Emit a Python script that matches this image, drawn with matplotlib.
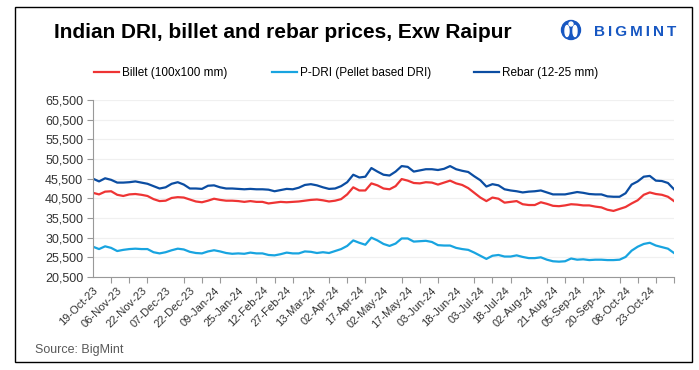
import numpy as np
import matplotlib.pyplot as plt
from matplotlib.patches import Rectangle, Ellipse

'''
Indian DRI, billet and rebar prices, Exw Raipur (INR/t)
values sampled every quarter of a label interval
'''

date_labels = ['19-Oct-23', '06-Nov-23', '22-Nov-23', '07-Dec-23', '22-Dec-23', '09-Jan-24',
               '25-Jan-24', '12-Feb-24', '27-Feb-24', '13-Mar-24', '02-Apr-24', '17-Apr-24',
               '02-May-24', '17-May-24', '03-Jun-24', '18-Jun-24', '03-Jul-24', '18-Jul-24',
               '02-Aug-24', '21-Aug-24', '05-Sep-24', '20-Sep-24', '08-Oct-24', '23-Oct-24']

billet = [41900, 41500, 42200, 42300, 41400, 41100, 41500, 41600, 41400, 41100, 40300, 39800,
          39900, 40600, 40800, 40700, 40200, 39700, 39500, 39900, 40400, 40100, 39900, 39900,
          39800, 39600, 39800, 39600, 39600, 39200, 39400, 39600, 39500, 39600, 39700, 39900,
          40100, 40200, 40000, 39700, 39900, 40300, 41500, 43300, 42500, 42500, 44300, 43800,
          43000, 42800, 43600, 45400, 45000, 44400, 44300, 44600, 44500, 44000, 44500, 45000,
          44300, 43900, 43100, 41900, 40700, 39800, 40700, 40400, 39400, 39600, 39800, 39000,
          38800, 38800, 39500, 39100, 38600, 38500, 38700, 39000, 38900, 38700, 38700, 38400,
          38200, 37600, 37300, 37800, 38300, 39200, 40000, 41400, 42000, 41600, 41400, 40900,
          39800]

pdri = [28200, 27600, 28300, 27900, 27100, 27400, 27600, 27700, 27600, 27600, 26800, 26500,
        26800, 27300, 27700, 27500, 26900, 26600, 26500, 27000, 27300, 27000, 26600, 26400,
        26500, 26400, 26700, 26500, 26500, 26100, 26000, 26300, 26700, 26500, 26500, 27000,
        26900, 26600, 26800, 26600, 27100, 27600, 28400, 29800, 29200, 28700, 30500, 29800,
        28900, 28400, 29000, 30300, 30300, 29500, 29600, 29700, 29400, 28600, 28500, 28500,
        27900, 27600, 27400, 26700, 25900, 25100, 25900, 26100, 25700, 25700, 26000, 25600,
        25300, 25300, 25500, 24900, 24500, 24400, 24500, 25200, 24900, 25000, 24800, 24900,
        24900, 24800, 24800, 24900, 25600, 27200, 28200, 28900, 29200, 28500, 28100, 27700,
        26600]

rebar = [45500, 44800, 45600, 45200, 44500, 44500, 44600, 44800, 44500, 44200, 43600, 43000,
         43300, 44200, 44600, 44000, 43000, 43000, 42900, 43700, 43800, 43300, 43000, 43000,
         42900, 42800, 42900, 42800, 42800, 42700, 42300, 42600, 42900, 42800, 43200, 43900,
         44100, 43800, 43300, 42900, 43000, 43600, 44600, 46500, 45800, 46000, 48200, 47300,
         46500, 46300, 47300, 48700, 48500, 47300, 47600, 47900, 47900, 47700, 48000, 48700,
         47900, 47500, 47200, 46100, 45100, 43500, 44100, 43800, 42800, 42500, 42300, 42000,
         42200, 42300, 42500, 42000, 41500, 41500, 41500, 41800, 42100, 41900, 41600, 41500,
         41500, 41000, 40900, 40900, 41800, 44000, 44800, 46000, 46200, 45000, 44900, 44400,
         42800]

x = np.arange(len(billet)) / 4.0

plt.rcParams['font.family'] = ['Liberation Sans', 'DejaVu Sans']
fig = plt.figure(figsize=(6.99, 3.70), dpi=100)
W, H = 699.0, 370.0

# outer frame
fig.patches.append(Rectangle((14.5 / W, 8 / H), 677.5 / W, 355 / H, transform=fig.transFigure,
                             fill=False, edgecolor='black', linewidth=1.0))

ax = fig.add_axes([93 / W, 1 - 277 / H, 581 / W, 177 / H])

l1, = ax.plot(x, billet, color='#EE3434', linewidth=1.6)
l2, = ax.plot(x, pdri, color='#18A4E0', linewidth=1.6)
l3, = ax.plot(x, rebar, color='#0B4DA2', linewidth=1.6)

ax.set_xlim(0, 24)
ax.set_ylim(20500, 65500)
ax.set_yticks(np.arange(20500, 65501, 5000))
ax.set_yticklabels(['{:,}'.format(v) for v in range(20500, 65501, 5000)], fontsize=9, color='#333333')
ax.grid(axis='y', color='#f0f0f0', linewidth=0.9)
ax.set_axisbelow(True)

ax.set_xticks(np.arange(len(date_labels)))
ax.set_xticklabels(date_labels, rotation=45, ha='right', rotation_mode='anchor', fontsize=8,
                   color='#333333')
ax.set_xticks(np.arange(0, 24.01, 0.75), minor=True)
ax.tick_params(axis='x', which='major', length=0, pad=6)
ax.tick_params(axis='x', which='minor', length=4, color='#999999', width=0.8)
ax.tick_params(axis='y', length=4, color='#999999', width=0.8, pad=3)

for side in ['top', 'right']:
    ax.spines[side].set_visible(False)
for side in ['left', 'bottom']:
    ax.spines[side].set_color('#999999')
    ax.spines[side].set_linewidth(0.8)

# legend, one entry per block like the original
for handle, name, left in [(l1, 'Billet (100x100 mm)', 94),
                           (l2, 'P-DRI (Pellet based DRI)', 272),
                           (l3, 'Rebar (12-25 mm)', 474)]:
    leg = fig.legend([handle], [name], loc='center left', bbox_to_anchor=(left / W, 1 - 73 / H),
                     frameon=False, fontsize=8.5, handlelength=2.1, handletextpad=0.25,
                     borderpad=0, borderaxespad=0)

fig.text(283 / W, 1 - 33 / H, 'Indian DRI, billet and rebar prices, Exw Raipur',
         ha='center', va='center', fontsize=15, fontweight='bold')

# logo
fig.patches.append(Ellipse((571 / W, 1 - 30 / H), 19 / W, 19 / H, transform=fig.transFigure,
                           color='#1757C2'))
fig.patches.append(Ellipse((567 / W, 1 - 31 / H), 4 / W, 11 / H, transform=fig.transFigure,
                           color='white'))
fig.patches.append(Ellipse((575 / W, 1 - 31 / H), 4 / W, 11 / H, transform=fig.transFigure,
                           color='white'))
fig.patches.append(Ellipse((571 / W, 1 - 24 / H), 4 / W, 4 / H, transform=fig.transFigure,
                           color='white'))
fig.text(594 / W, 1 - 32 / H, '\u2009'.join('BIGMINT'), ha='left', va='center', fontsize=11,
         fontweight='bold', color='#1757C2')

fig.text(35 / W, 1 - 350 / H, 'Source: BigMint', ha='left', va='center', fontsize=9,
         color='#595959')

fig.savefig('out.png', dpi=100)
